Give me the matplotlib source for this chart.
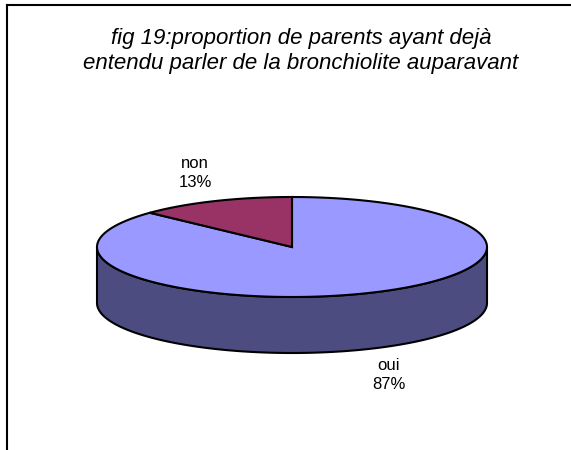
import numpy as np
import matplotlib
matplotlib.use('Agg')
import matplotlib.pyplot as plt
from matplotlib.patches import Polygon

plt.rcParams['font.family'] = ['Liberation Sans', 'DejaVu Sans']

# data
labels = ['oui', 'non']
values = [87, 13]
top_colors = ['#9999FF', '#993366']
side_colors = ['#4C4C80', '#4D1A33']
title = 'fig 19:proportion de parents ayant dejà\nentendu parler de la bronchiolite auparavant'

W, H = 571, 450
fig = plt.figure(figsize=(W / 100, H / 100), dpi=100)
ax = fig.add_axes([0, 0, 1, 1])
ax.set_xlim(0, W)
ax.set_ylim(0, H)
ax.axis('off')

# frame (only top and left edges visible in the crop)
ax.plot([6.5, W], [H - 5, H - 5], color='black', lw=1.5)
ax.plot([6.5, 6.5], [0, H - 5], color='black', lw=1.5)

# pie geometry (pixels, y up)
cx, cy = 292, 203
rx, ry = 195, 50
depth = 56


def arc(t0, t1, n=200):
    t = np.radians(np.linspace(t0, t1, n))
    return np.column_stack([cx + rx * np.cos(t), cy + ry * np.sin(t)])


# wedge angles: start at top, oui clockwise, non counterclockwise
fracs = np.array(values) / sum(values)
oui_start, oui_end = 90 - 360 * fracs[0], 90
non_start, non_end = 90, 90 + 360 * fracs[1]

# side wall (front half, all belongs to 'oui')
front = arc(180, 360)
lower = front - [0, depth]
side = np.vstack([front, lower[::-1]])
ax.add_patch(Polygon(side, closed=True, facecolor=side_colors[0],
                     edgecolor='black', lw=1.5, joinstyle='round'))

# top faces
for (a0, a1), fc in zip([(oui_start, oui_end), (non_start, non_end)], top_colors):
    pts = np.vstack([[cx, cy], arc(a0, a1)])
    ax.add_patch(Polygon(pts, closed=True, facecolor=fc,
                         edgecolor='black', lw=1.5, joinstyle='miter'))

# labels
label_pos = {'oui': (389, 75), 'non': (195, 277)}
for lab, v in zip(labels, values):
    x, y = label_pos[lab]
    ax.text(x, y, f'{lab}\n{v}%', ha='center', va='center',
            fontsize=12, linespacing=1.4)

ax.text(301, H - 51, title, ha='center', va='center', fontsize=16,
        style='italic', linespacing=1.28)

fig.savefig('out.png', dpi=100, facecolor='white')
